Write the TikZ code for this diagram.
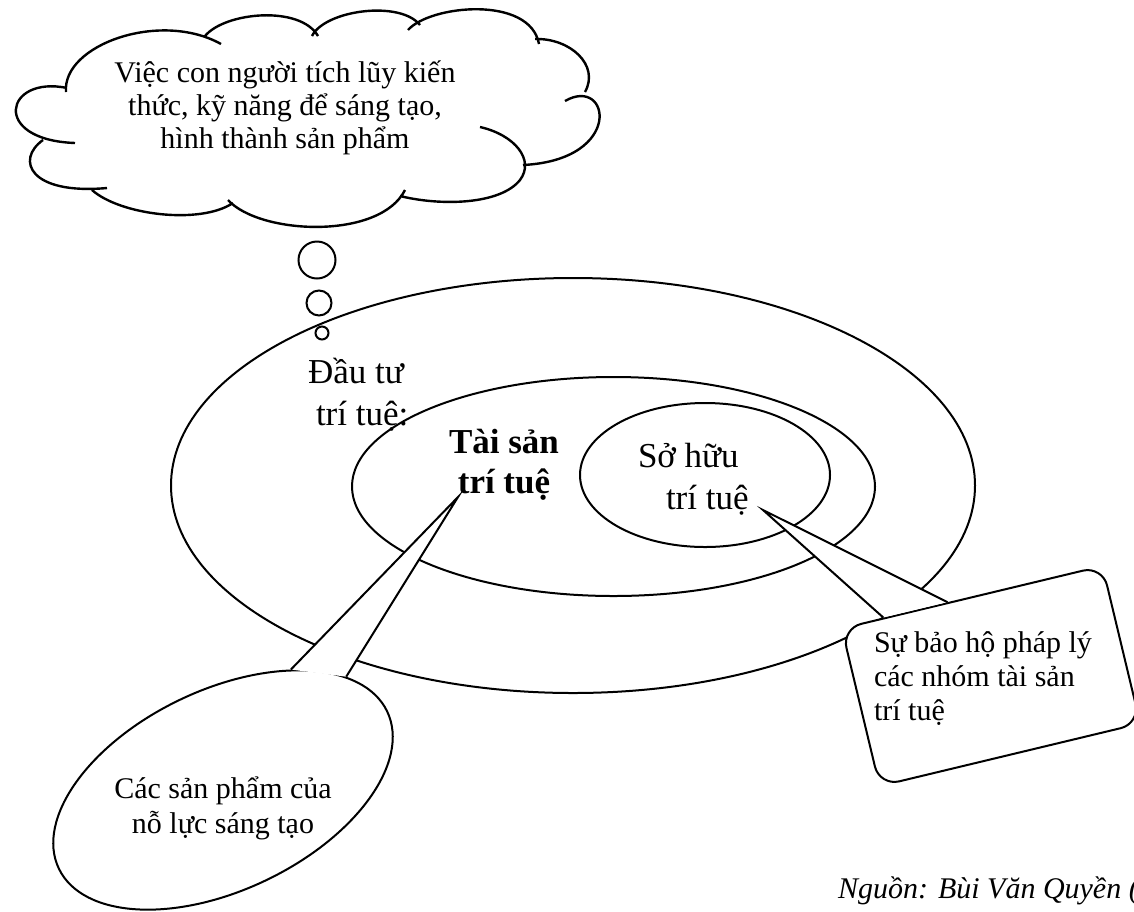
\documentclass[tikz,border=0pt]{standalone}
\usepackage{fontspec}
\setmainfont{Liberation Serif}
\usetikzlibrary{shapes.geometric}

\begin{document}
\begin{tikzpicture}[x=0.5pt, y=-0.5pt, line width=1pt,
    ring/.style={ellipse, draw, inner sep=0pt},
    bubble/.style={circle, draw, inner sep=0pt},
    bigtxt/.style={font=\fontsize{17.5}{21}\selectfont, inner sep=0pt},
    smalltxt/.style={font=\fontsize{15}{17}\selectfont, inner sep=0pt}]
    \useasboundingbox (0,0) rectangle (1134,911);

    \node[ring, minimum width=402pt, minimum height=207.5pt] (invest) at (573,485.5) {};
    \node[ring, minimum width=261.5pt, minimum height=109.5pt] (asset) at (613.5,486.5) {};
    \node[ring, minimum width=125pt, minimum height=72pt] (ip) at (705,475) {};

    \node[bigtxt, align=left, anchor=west] (investtxt) at (307,395) {Đầu tư\\\hspace*{4pt}trí tuệ:};
    \node[bigtxt, align=center, font=\bfseries\fontsize{17.5}{20}\selectfont] (assettxt) at (504,465) {Tài sản\\trí tuệ};
    \node[bigtxt, align=left, anchor=west, font=\fontsize{17.5}{21}\selectfont] (iptxt) at (637,479) {Sở hữu\\\hspace*{14pt}trí tuệ};

    \node[bubble, minimum size=18.5pt] (b1) at (317,260) {};
    \node[bubble, minimum size=12.5pt] (b2) at (319,303) {};
    \node[bubble, minimum size=6.5pt] (b3) at (322,333) {};

    \draw[line width=1.2pt]
        (66,92) .. controls (62,45) and (160,10) .. (221,44)
        (205,36) .. controls (225,12) and (300,5) .. (318,36)
        (312,36) .. controls (325,10) and (400,0) .. (420,25)
        (408,30) .. controls (430,5) and (530,-5) .. (539,44)
        (535,39) .. controls (570,38) and (600,65) .. (585,92)
        (565,101) .. controls (610,75) and (625,160) .. (523,165)
        (400,196) .. controls (440,206) and (500,205) .. (520,180)
                  .. controls (535,160) and (515,135) .. (480,127)
        (228,200) .. controls (260,235) and (380,240) .. (405,190)
        (92,190) .. controls (120,215) and (200,225) .. (233,203)
        (43,140) .. controls (15,160) and (30,195) .. (107,188)
        (67,88) .. controls (5,75) and (-10,140) .. (75,143);
    \node[smalltxt, align=center, font=\fontsize{15}{16.5}\selectfont] (thought) at (285,108)
        {Việc con người tích lũy kiến\\thức, kỹ năng để sáng tạo,\\hình thành sản phẩm};

    \coordinate (tipA) at (458,497);
    \coordinate (tipB) at (763,510);

    \node[ellipse, draw, fill=white, inner sep=0pt, rotate=25.6,
          minimum width=182pt, minimum height=100pt] (prod) at (223,790) {};
    \fill[white] (prod.35) -- (tipA) -- (prod.17) -- cycle;
    \draw (prod.35) -- (tipA) -- (prod.17);
    \node[smalltxt, align=center, font=\fontsize{15}{17.5}\selectfont] (prodtxt) at (223,808)
        {Các sản phẩm của\\nỗ lực sáng tạo};

    \node[rectangle, draw, fill=white, rounded corners=10pt, inner sep=0pt, rotate=13.5,
          minimum width=134pt, minimum height=81pt] (protect) at (991,676) {};
    \fill[white] (protect.138.5) -- (tipB) -- (protect.107) -- cycle;
    \draw (protect.138.5) -- (tipB) -- (protect.107);
    \node[smalltxt, align=left, anchor=west] (protecttxt) at (873,679)
        {Sự bảo hộ pháp lý\\các nhóm tài sản\\trí tuệ};

    \node[font=\itshape\fontsize{15}{18}\selectfont, anchor=base west, inner sep=0pt] (source)
        at (837,898) {Nguồn: Bùi Văn Quyền (};
\end{tikzpicture}
\end{document}
